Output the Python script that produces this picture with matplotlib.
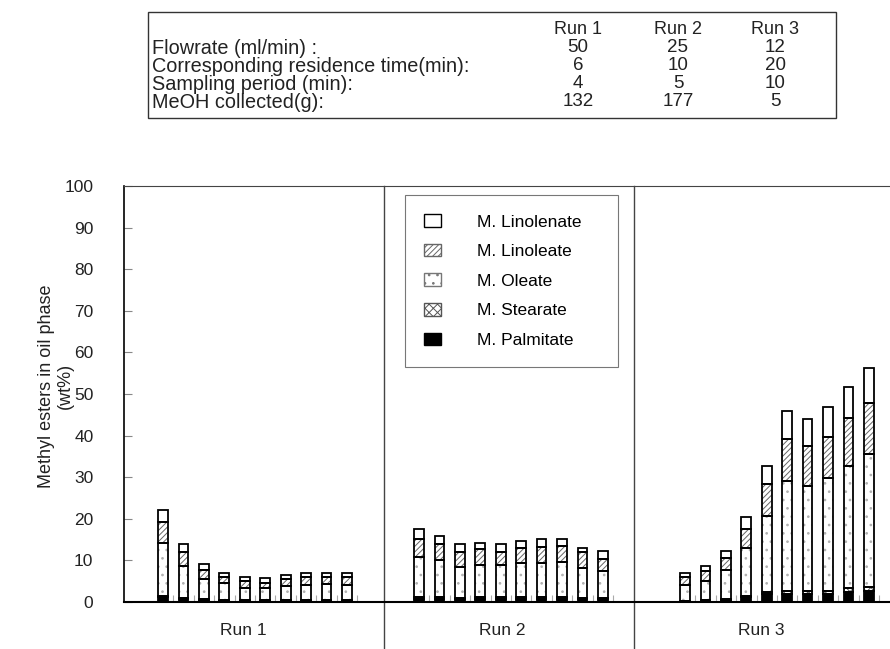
import numpy as np
import matplotlib
matplotlib.use('Agg')
import matplotlib.pyplot as plt
from matplotlib.patches import Rectangle, Patch

plt.rcParams['font.family'] = ['Liberation Sans', 'DejaVu Sans']
plt.rcParams['hatch.linewidth'] = 0.7

# ---- данные ----
runs = ['Run 1', 'Run 2', 'Run 3']

# 10 проб на каждый прогон (Run 1, Run 2, Run 3), wt%
palmitate = [1.1, 0.7, 0.5, 0.3, 0.3, 0.3, 0.3, 0.3, 0.3, 0.3,
             0.8, 0.8, 0.7, 0.8, 0.8, 0.8, 0.8, 0.8, 0.7, 0.7,
             0.2, 0.4, 0.5, 1.1, 2.0, 2.0, 2.0, 2.0, 2.5, 2.7]
stearate = [0.4, 0.3, 0.2, 0.2, 0.2, 0.2, 0.2, 0.2, 0.2, 0.2,
            0.3, 0.3, 0.3, 0.3, 0.3, 0.3, 0.3, 0.3, 0.3, 0.3,
            0.1, 0.2, 0.2, 0.3, 0.4, 0.7, 0.7, 0.7, 0.8, 0.8]
oleate = [12.6, 7.7, 4.9, 4.0, 2.9, 2.9, 3.4, 3.6, 3.8, 3.6,
          9.6, 9.0, 7.5, 7.7, 7.7, 8.2, 8.2, 8.6, 7.1, 6.5,
          3.9, 4.5, 7.0, 11.5, 18.3, 26.4, 25.3, 27.0, 29.4, 32.0]
linoleate = [5.1, 3.4, 2.2, 1.4, 1.7, 1.1, 1.6, 2.0, 1.8, 1.8,
             4.4, 3.8, 3.4, 3.9, 3.2, 3.8, 4.0, 3.8, 3.8, 2.8,
             1.7, 2.4, 2.8, 4.6, 7.6, 10.2, 9.6, 10.0, 11.5, 12.4]
linolenate = [2.9, 1.9, 1.3, 1.1, 1.0, 1.2, 1.0, 0.8, 0.8, 1.0,
              2.4, 2.0, 2.0, 1.6, 1.9, 1.6, 1.8, 1.6, 1.2, 2.0,
              1.0, 1.1, 1.8, 2.9, 4.5, 6.7, 6.3, 7.1, 7.4, 8.3]

# таблица условий
table_rows = ['Flowrate (ml/min) :', 'Corresponding residence time(min):',
              'Sampling period (min):', 'MeOH collected(g):']
table_values = [[50, 25, 12], [6, 10, 20], [4, 5, 10], [132, 177, 5]]

# ---- стили компонентов (снизу вверх) ----
series = [
    ('M. Palmitate', palmitate, 'black', None, 'black'),
    ('M. Stearate', stearate, 'white', 'xxxx', '#555555'),
    ('M. Oleate', oleate, 'white', '..', '#b0b0b0'),
    ('M. Linoleate', linoleate, 'white', '//////', '#666666'),
    ('M. Linolenate', linolenate, 'white', None, 'black'),
]

W, H = 890, 649
fig = plt.figure(figsize=(W / 100, H / 100), dpi=100)
ax = fig.add_axes([124 / W, 1 - 602 / H, 766 / W, 416 / H])

run_start = [1.91, 14.44, 27.46]
dividers = [12.73, 24.96]
label_x = [5.85, 18.5, 31.2]
n_per_run = len(palmitate) // len(runs)
x = np.concatenate([s + np.arange(n_per_run) for s in run_start])
bar_w = 0.48

bottom = np.zeros(len(x))
for name, vals, fc, hatch, hc in series:
    vals = np.array(vals)
    ax.bar(x, vals, bar_w, bottom=bottom, color=fc, edgecolor=hc,
           hatch=hatch, linewidth=0, zorder=2)
    ax.bar(x, vals, bar_w, bottom=bottom, fill=False, edgecolor='black',
           linewidth=1.3, zorder=3)
    bottom += vals

ax.set_xlim(0, 766 / 20.43)
ax.set_ylim(0, 100)
ax.set_yticks(range(0, 101, 10))
ax.tick_params(axis='y', direction='in', length=6, color='#888888',
               pad=22, labelsize=12.5, labelcolor='#222222')
ax.set_xticks(x + 0.5)
ax.set_xticklabels([])
ax.tick_params(axis='x', direction='in', length=5, color='#aaaaaa')

ax.spines['right'].set_visible(False)
ax.spines['left'].set_linewidth(1.2)
ax.spines['bottom'].set_linewidth(1.5)
ax.spines['top'].set_color('#444444')

for d in dividers:
    ax.axvline(d, ymin=-0.11, ymax=1, color='#444444', linewidth=1,
               clip_on=False, zorder=1)

for lx, run in zip(label_x, runs):
    ax.text(lx, -0.068, run, transform=ax.get_xaxis_transform(),
            ha='center', va='center', fontsize=12.5, color='#222222')

fig.text(56 / W, 1 - 386 / H, 'Methyl esters in oil phase\n(wt%)',
         rotation=90, ha='center', va='center', multialignment='center',
         fontsize=13, color='#222222')

# легенда
handles = []
for name, vals, fc, hatch, hc in reversed(series):
    ec = hc if name != 'M. Oleate' else '#777777'
    handles.append(Patch(facecolor=fc, edgecolor=ec, hatch=hatch, linewidth=1))
leg = ax.legend(handles, [s[0] for s in reversed(series)],
                loc='upper left', mode='expand',
                bbox_to_anchor=(405 / W, 1 - 363 / H, 213 / W, 168 / H),
                bbox_transform=fig.transFigure,
                fontsize=12.5, fancybox=False, framealpha=1,
                edgecolor='#777777', handlelength=0.95, handleheight=0.75,
                handletextpad=2.1, labelspacing=0.82, borderpad=1.1,
                borderaxespad=0)
leg.get_frame().set_linewidth(0.8)

# таблица сверху
fig.patches.append(Rectangle((148 / W, 1 - 118 / H), 688 / W, 106 / H,
                             transform=fig.transFigure, fill=False,
                             edgecolor='#333333', linewidth=1))
col_x = [578, 678, 775]
for cx, run in zip(col_x, runs):
    fig.text(cx / W, 1 - 30 / H, run, ha='center', va='center', fontsize=13,
             color='#222222')
for i, (row, vals) in enumerate(zip(table_rows, table_values)):
    y = 1 - (48 + 18 * i) / H
    fig.text(152 / W, y, row, ha='left', va='center', fontsize=14.3,
             color='#222222')
    for cx, v in zip(col_x, vals):
        fig.text(cx / W, y, str(v), ha='center', va='center', fontsize=13.5,
                 color='#222222')

fig.savefig('out.png', dpi=100)
